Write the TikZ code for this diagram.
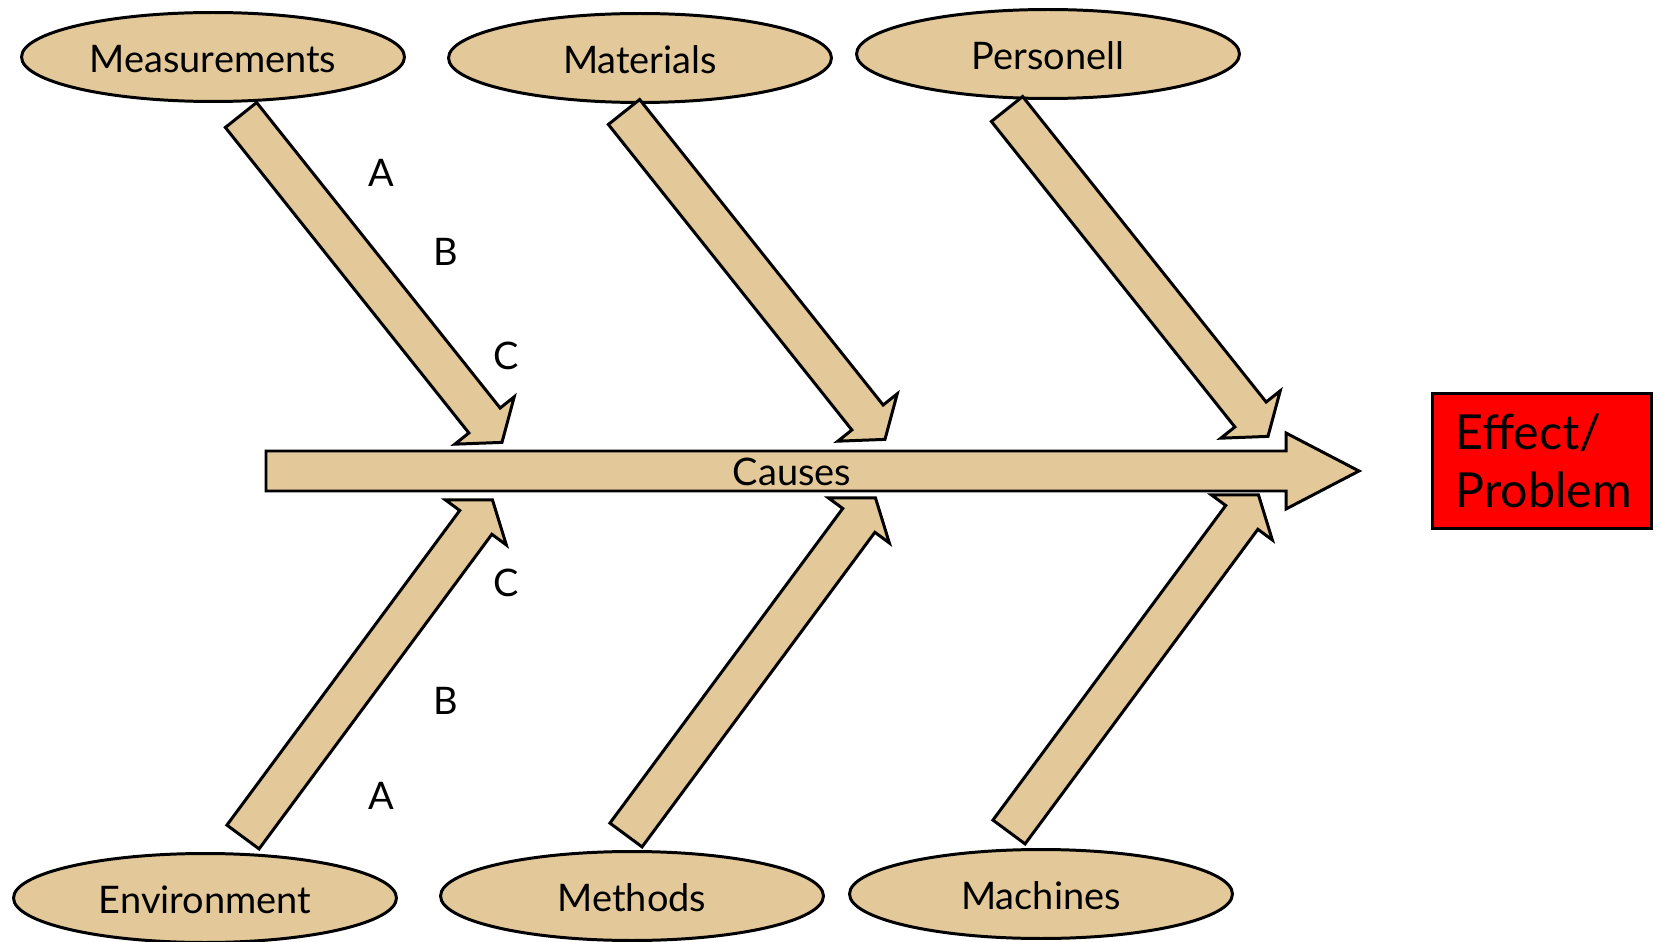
\documentclass[tikz,border=0pt]{standalone}
\usepackage{fontspec}
\setmainfont{Lato}
\usetikzlibrary{shapes.geometric,positioning}
\definecolor{bonetan}{RGB}{227,201,153}
% one rib of the fishbone: tail coordinate, angle, shaft length
\newcommand{\rib}[3]{%
\draw[bone,shift={(#1)},rotate=#2] (0,-20) -- (#3,-20) -- (#3,-38) -- (#3+28,0) -- (#3,38) -- (#3,20) -- (0,20) -- cycle;}

\begin{document}
\begin{tikzpicture}[x=0.02cm,y=-0.02cm,
  bone/.style={fill=bonetan,draw=black,line width=1.7pt,line join=miter},
  cause/.style={ellipse,draw=black,fill=bonetan,line width=1.7pt,minimum width=7.66cm,minimum height=1.78cm,inner sep=0pt,text height=18pt,text depth=0pt,font=\fontsize{21.6}{26}\selectfont},
  tag/.style={font=\fontsize{21.6}{26}\selectfont}]
\useasboundingbox (0,0) rectangle (1660,942);
\node[cause] (meas) at (213,57) {Measurements};
\node[cause] (mat) at (640,58) {Materials};
\node[cause] (pers) at (1048,54) {Personell};
\node[cause] (env) at (205,898) {Environment};
\node[cause] (meth) at (632,896) {Methods};
\node[cause] (mach) at (1041,894) {Machines};
\node[draw=black,fill=red,line width=1.7pt,minimum width=4.38cm,minimum height=2.72cm,inner sep=0pt,text width=3.46cm,align=left,font=\fontsize{27.5}{33}\selectfont] (effect) at (1542,461) {Effect/\\Problem};
% spine
\draw[bone] (266,451) -- (1286,451) -- (1286,433) -- (1359,471) -- (1286,509) -- (1286,491) -- (266,491) -- cycle;
\node[tag] (causes) at (792,472) {Causes};
% ribs
\coordinate (t1) at (241,115);
\coordinate (t2) at (624,112);
\coordinate (t3) at (1007,109);
\coordinate (b1) at (243,837);
\coordinate (b2) at (626,835);
\coordinate (b3) at (1009,832);
\rib{t1}{-51.44}{390.7}
\rib{t2}{-51.44}{390.7}
\rib{t3}{-51.44}{390.7}
\rib{b1}{53.5}{391.4}
\rib{b2}{53.5}{391.4}
\rib{b3}{53.5}{391.4}
\node[tag] (ta) at (381,173) {A};
\node[tag] (tb) at (446,252) {B};
\node[tag] (tc) at (506,356) {C};
\node[tag] (bc) at (506,583) {C};
\node[tag] (bb) at (446,701) {B};
\node[tag] (ba) at (381,796) {A};
\end{tikzpicture}
\end{document}
